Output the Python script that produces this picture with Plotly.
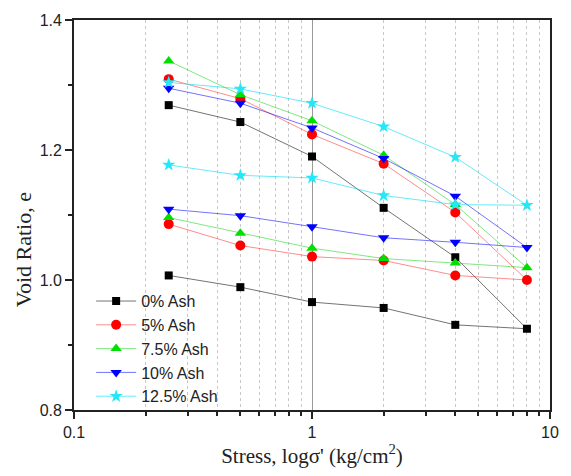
import plotly.graph_objects as go

stress = [0.25, 0.5, 1, 2, 4, 8, 4, 2, 1, 0.5, 0.25]
ash0 = [1.269, 1.243, 1.190, 1.111, 1.035, 0.925, 0.931, 0.957, 0.966, 0.989, 1.007]
ash5 = [1.309, 1.279, 1.224, 1.179, 1.104, 1.000, 1.007, 1.030, 1.036, 1.053, 1.086]
ash7_5 = [1.337, 1.285, 1.245, 1.192, 1.116, 1.019, 1.026, 1.033, 1.049, 1.072, 1.096]
ash10 = [1.295, 1.272, 1.234, 1.187, 1.129, 1.050, 1.058, 1.065, 1.082, 1.099, 1.109]
ash12_5 = [1.304, 1.294, 1.272, 1.236, 1.189, 1.115, 1.116, 1.130, 1.157, 1.161, 1.177]

names = ["0% Ash", "5% Ash", "7.5% Ash", "10% Ash", "12.5% Ash"]
series = [ash0, ash5, ash7_5, ash10, ash12_5]
colors = ["#000000", "#ff0000", "#00e000", "#0000ff", "#22e8f8"]
line_colors = ["rgba(0,0,0,0.55)", "rgba(255,0,0,0.45)", "rgba(0,210,0,0.5)",
               "rgba(0,0,255,0.55)", "rgba(0,220,245,0.6)"]
symbols = ["square", "circle", "triangle-up", "triangle-down", "star"]
sizes = [8, 10, 10, 10, 10]

fig = go.Figure()
for n, s, c, lc, sym, sz in zip(names, series, colors, line_colors, symbols, sizes):
    fig.add_trace(go.Scatter(
        x=stress, y=s, name=n, mode="lines+markers",
        line=dict(color=lc, width=1),
        marker=dict(symbol=sym, size=sz, color=c, line=dict(width=0)),
    ))

fig.update_layout(
    width=571, height=476,
    margin=dict(l=74, r=12, t=15, b=66),
    plot_bgcolor="white", paper_bgcolor="white",
    font=dict(family="Liberation Sans", size=16, color="#222"),
    showlegend=True,
    legend=dict(
        x=0.036, y=-0.008, xanchor="left", yanchor="bottom",
        font=dict(family="Liberation Sans", size=16, color="#222"),
        bgcolor="rgba(255,255,255,0)", itemwidth=40,
    ),
    annotations=[dict(
        text="Void Ratio, e", textangle=-90,
        xref="paper", yref="paper", x=-0.107, y=0.41,
        xanchor="center", yanchor="middle", showarrow=False,
        font=dict(family="Liberation Serif", size=22, color="#222"),
    )],
)

fig.update_xaxes(
    type="log", range=[-1, 1], dtick=1,
    tickvals=[0.1, 1, 10], ticktext=["0.1", "1", "10"],
    ticks="outside", ticklen=7, tickwidth=1.5, tickcolor="#222",
    showline=True, linecolor="#222", linewidth=1.8, mirror=True,
    showgrid=True, gridcolor="#9a9a9a", gridwidth=1,
    minor=dict(tickvals=[0.2, 0.3, 0.4, 0.5, 0.6, 0.7, 0.8, 0.9,
                         2, 3, 4, 5, 6, 7, 8, 9],
               ticks="outside", ticklen=4, tickcolor="#222",
               showgrid=True, gridcolor="#c8c8c8", griddash="dot", gridwidth=1),
    zeroline=False,
    title=dict(text="Stress, logσ' (kg/cm<sup>2</sup>)",
               font=dict(family="Liberation Serif", size=21, color="#222"),
               standoff=8),
    tickfont=dict(family="Liberation Sans", size=16, color="#222"),
)
fig.update_yaxes(
    range=[0.8, 1.4], dtick=0.2, tickformat=".1f",
    ticks="outside", ticklen=7, tickwidth=1.5, tickcolor="#222",
    minor=dict(dtick=0.1, ticks="outside", ticklen=4, tickcolor="#222", showgrid=False),
    showline=True, linecolor="#222", linewidth=1.8, mirror=True,
    showgrid=False, zeroline=False,
    tickfont=dict(family="Liberation Sans", size=16, color="#222"),
)

fig.write_html("out.html")
